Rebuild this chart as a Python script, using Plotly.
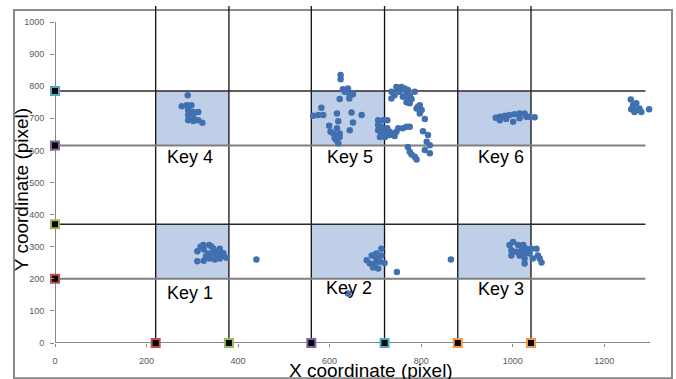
import plotly.graph_objects as go

# ---- data ----
key_names = ["Key 1", "Key 2", "Key 3", "Key 4", "Key 5", "Key 6"]
key_x0 = [220, 560, 880, 220, 560, 880]
key_x1 = [380, 720, 1040, 380, 720, 1040]
key_y0 = [200, 200, 200, 615, 615, 615]
key_y1 = [370, 370, 370, 785, 785, 785]
label_x = [295, 643, 974, 295, 645, 974]
label_y = [155, 170, 167, 579, 579, 579]

v_lines = [220, 380, 560, 720, 880, 1040]
h_lines = [785, 615, 370, 200]

x_marker_vals = [220, 380, 560, 720, 880, 1040]
x_marker_cols = ["#C0504D", "#9BBB59", "#8064A2", "#4BACC6", "#F79646", "#F79646"]
y_marker_vals = [785, 615, 370, 200]
y_marker_cols = ["#4BACC6", "#8064A2", "#9BBB59", "#C0504D"]

k1_x = [311, 324, 337, 325, 346, 360, 311, 325, 338, 349, 360, 375, 346, 335, 357, 366, 318, 330, 352, 342, 368, 355, 440]
k1_y = [286, 305, 305, 291, 294, 294, 255, 256, 263, 260, 263, 266, 279, 279, 277, 270, 300, 270, 285, 300, 280, 265, 260]

k2_x = [681, 692, 702, 713, 713, 688, 699, 710, 720, 695, 706, 702, 747, 865, 640]
k2_y = [258, 273, 279, 294, 273, 248, 248, 253, 249, 235, 232, 263, 221, 260, 154]

k3_x = [993, 1001, 1012, 1023, 997, 1008, 1019, 1030, 1041, 1052, 997, 1015, 1026, 1037, 1055, 1026, 1026, 1044, 1063, 1059]
k3_y = [305, 315, 305, 305, 289, 284, 289, 294, 294, 294, 273, 273, 279, 279, 273, 263, 248, 263, 251, 263]

k4_x = [290, 277, 288, 298, 291, 302, 313, 291, 302, 291, 302, 313, 322]
k4_y = [772, 738, 741, 741, 726, 720, 720, 710, 705, 694, 692, 694, 686]

k5_x = [624, 624, 629, 640, 633, 644, 651, 643, 622, 564, 575, 586, 582, 616, 648, 670,
        619, 651, 599, 616, 644, 602, 608, 615, 622, 611, 622, 615, 619,
        706, 717, 726, 706, 713, 706, 717, 726, 713, 724, 731, 739, 746, 750, 760, 768, 775,
        731, 742, 721, 710,
        735, 746, 757, 764, 771, 753, 742, 768, 775, 786, 735, 760, 771, 779, 768, 775,
        793, 797, 790, 801, 797, 808, 804, 815, 812, 819, 808, 819, 771, 775, 779, 786, 790]
k5_y = [835, 822, 791, 793, 783, 772, 775, 762, 760, 708, 710, 710, 733, 715, 718, 710,
        691, 687, 677, 669, 663, 658, 653, 648, 653, 639, 642, 632, 622,
        694, 694, 694, 679, 674, 663, 663, 669, 653, 653, 658, 653, 658, 669, 669, 674, 674,
        648, 645, 642, 642,
        783, 798, 798, 793, 788, 783, 772, 778, 772, 783, 762, 767, 762, 760, 750, 747,
        736, 741, 731, 726, 715, 698, 660, 648, 627, 616, 601, 591, 611, 596, 587, 580, 572]

k6_x = [963, 972, 983, 993, 1004, 1015, 1026, 1037, 1048, 1001, 986, 1015, 972, 1030]
k6_y = [702, 705, 708, 710, 713, 715, 715, 705, 703, 689, 698, 700, 694, 705]

r_x = [1258, 1263, 1270, 1259, 1270, 1277, 1281, 1266, 1298]
r_y = [759, 741, 747, 728, 726, 731, 720, 720, 728]

pts_x = k1_x + k2_x + k3_x + k4_x + k5_x + k6_x + r_x
pts_y = k1_y + k2_y + k3_y + k4_y + k5_y + k6_y + r_y

x_ticks = [0, 200, 400, 600, 800, 1000, 1200]
y_ticks = [0, 100, 200, 300, 400, 500, 600, 700, 800, 900, 1000]

FONT = "Liberation Sans, Arial, sans-serif"

fig = go.Figure()

shapes = []
# key rectangles
for i in range(len(key_names)):
    shapes.append(dict(type="rect", xref="x", yref="y", x0=key_x0[i], x1=key_x1[i],
                       y0=key_y0[i], y1=key_y1[i], fillcolor="#BFCFE8",
                       line=dict(width=0), layer="below"))
# vertical lines
for v in v_lines:
    shapes.append(dict(type="line", xref="x", yref="y", x0=v, x1=v, y0=0, y1=1050,
                       line=dict(color="#111111", width=1.3), layer="below"))
# horizontal lines
for h in h_lines:
    dark = h in (785, 370)
    shapes.append(dict(type="line", xref="x", yref="y", x0=0, x1=1290, y0=h, y1=h,
                       line=dict(color="#2a2a2a" if dark else "#7f7f7f", width=1.4 if dark else 2),
                       layer="below"))
# axis lines
shapes.append(dict(type="line", xref="x", yref="y", x0=0, x1=1300, y0=0, y1=0,
                   line=dict(color="#868686", width=2), layer="below"))
shapes.append(dict(type="line", xref="x", yref="y", x0=0, x1=0, y0=0, y1=1000,
                   line=dict(color="#868686", width=2), layer="below"))
# outer chart border
shapes.append(dict(type="rect", xref="paper", yref="paper", x0=-0.0689, x1=1.037,
                   y0=-0.1048, y1=0.9881, line=dict(color="#898989", width=2),
                   fillcolor="rgba(0,0,0,0)", layer="below"))

fig.add_trace(go.Scatter(x=pts_x, y=pts_y, mode="markers",
                         marker=dict(color="#4170B0", size=6.5, line=dict(width=0)),
                         cliponaxis=False, showlegend=False, hoverinfo="skip"))

fig.add_trace(go.Scatter(x=x_marker_vals, y=[0] * len(x_marker_vals), mode="markers",
                         marker=dict(symbol="square", color="black", size=8,
                                     line=dict(color=x_marker_cols, width=2)),
                         cliponaxis=False, showlegend=False))
fig.add_trace(go.Scatter(x=[0] * len(y_marker_vals), y=y_marker_vals, mode="markers",
                         marker=dict(symbol="square", color="black", size=8,
                                     line=dict(color=y_marker_cols, width=2)),
                         cliponaxis=False, showlegend=False))

annotations = []
for i, name in enumerate(key_names):
    annotations.append(dict(x=label_x[i], y=label_y[i], xref="x", yref="y", text=name,
                            showarrow=False, font=dict(family=FONT, size=18, color="#000000"),
                            xanchor="center", yanchor="middle"))
annotations.append(dict(x=0.531, y=-0.081, xref="paper", yref="paper",
                        text="X coordinate (pixel)", showarrow=False,
                        font=dict(family=FONT, size=19, color="#000000"),
                        xanchor="center", yanchor="middle"))
annotations.append(dict(x=-0.0571, y=0.4535, xref="paper", yref="paper",
                        text="Y coordinate (pixel)", showarrow=False, textangle=-90,
                        font=dict(family=FONT, size=19, color="#000000"),
                        xanchor="center", yanchor="middle"))

fig.update_layout(
    width=676, height=379,
    margin=dict(l=55, r=26, t=6, b=36.3, autoexpand=False),
    paper_bgcolor="white", plot_bgcolor="white",
    shapes=shapes, annotations=annotations,
    xaxis=dict(range=[0, 1300], tickvals=x_ticks, showgrid=False, zeroline=False,
               showline=False, ticks="outside", ticklen=3, tickcolor="#868686",
               tickfont=dict(family=FONT, size=9, color="#595959"), ticklabelstandoff=6,
               automargin=False, fixedrange=True),
    yaxis=dict(range=[0, 1050], tickvals=y_ticks, showgrid=False, zeroline=False,
               showline=False, ticks="outside", ticklen=4, tickcolor="#868686",
               tickfont=dict(family=FONT, size=9, color="#595959"), ticklabelstandoff=4,
               automargin=False, fixedrange=True),
)

fig.write_html("out.html", config={"displayModeBar": False},
               post_script="document.body.style.margin='0';document.body.style.overflow='hidden';")
